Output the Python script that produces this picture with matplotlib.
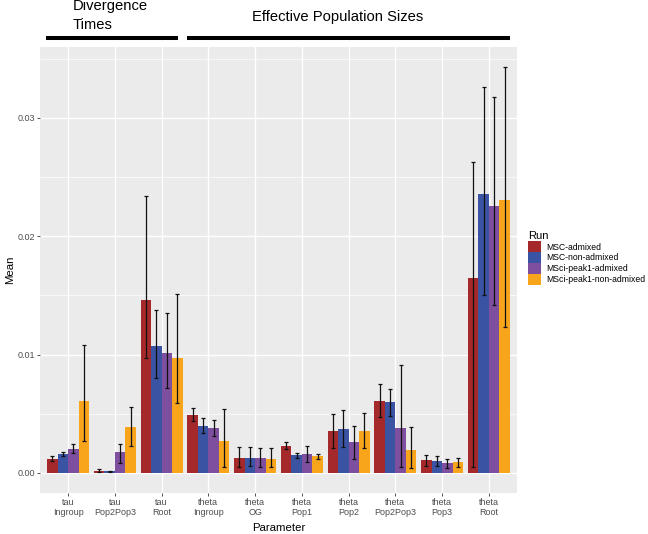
import matplotlib
matplotlib.use("Agg")
import matplotlib.pyplot as plt
from matplotlib.lines import Line2D
from matplotlib.patches import Patch
import numpy as np

plt.rcParams["font.family"] = ["Liberation Sans", "DejaVu Sans"]

categories = ["tau\nIngroup", "tau\nPop2Pop3", "tau\nRoot", "theta\nIngroup", "theta\nOG",
              "theta\nPop1", "theta\nPop2", "theta\nPop2Pop3", "theta\nPop3", "theta\nRoot"]
runs = ["MSC-admixed", "MSC-non-admixed", "MSci-peak1-admixed", "MSci-peak1-non-admixed"]
colors = ["#A5282B", "#3A53A3", "#7E4F9E", "#F9A51C"]

msc_adm = [0.0012, 0.0002, 0.0146, 0.0049, 0.00125, 0.0023, 0.0035, 0.0061, 0.00105, 0.0165]
msc_adm_lo = [0.0010, 0.0001, 0.0097, 0.0044, 0.0005, 0.0020, 0.0021, 0.0047, 0.0006, 0.0005]
msc_adm_hi = [0.0014, 0.0003, 0.0234, 0.0055, 0.0022, 0.0026, 0.0050, 0.0075, 0.0015, 0.0263]

msc_non = [0.0016, 0.00015, 0.0107, 0.0040, 0.0013, 0.0015, 0.0037, 0.0060, 0.0010, 0.0236]
msc_non_lo = [0.0014, 0.0001, 0.0080, 0.0034, 0.0006, 0.0013, 0.0022, 0.0048, 0.0006, 0.0150]
msc_non_hi = [0.0018, 0.0002, 0.0138, 0.0046, 0.0022, 0.0017, 0.0053, 0.0071, 0.0014, 0.0326]

msci_adm = [0.0020, 0.00175, 0.0101, 0.0038, 0.00124, 0.0016, 0.0026, 0.0038, 0.0008, 0.0226]
msci_adm_lo = [0.0017, 0.0008, 0.0072, 0.0031, 0.0005, 0.0009, 0.0012, 0.0005, 0.0004, 0.0142]
msci_adm_hi = [0.0024, 0.0024, 0.0135, 0.0045, 0.0021, 0.0023, 0.0040, 0.0091, 0.0012, 0.0318]

msci_non = [0.0061, 0.0039, 0.0097, 0.0027, 0.0012, 0.0014, 0.0035, 0.0019, 0.0009, 0.0231]
msci_non_lo = [0.0027, 0.0023, 0.0059, 0.0005, 0.0005, 0.0012, 0.0021, 0.0004, 0.0005, 0.0123]
msci_non_hi = [0.0108, 0.0056, 0.0151, 0.0054, 0.0021, 0.0016, 0.0051, 0.0039, 0.0013, 0.0343]

means = [msc_adm, msc_non, msci_adm, msci_non]
lows = [msc_adm_lo, msc_non_lo, msci_adm_lo, msci_non_lo]
highs = [msc_adm_hi, msc_non_hi, msci_adm_hi, msci_non_hi]

W, H = 648, 534
fig = plt.figure(figsize=(W / 100, H / 100), dpi=100)
ax = fig.add_axes([40 / W, 41 / H, 477 / W, 446 / H])
ax.set_facecolor("#EBEBEB")
for s in ax.spines.values():
    s.set_visible(False)

x = np.arange(len(categories))
bw = 0.9 / len(runs)
for i, (m, lo, hi, c) in enumerate(zip(means, lows, highs, colors)):
    xi = x - 0.45 + bw * (i + 0.5)
    m = np.array(m)
    ax.bar(xi, m, width=bw, color=c, zorder=2)
    yerr = np.vstack([m - np.array(lo), np.array(hi) - m])
    ax.errorbar(xi, m, yerr=yerr, fmt="none", ecolor="#111111", elinewidth=0.9,
                capsize=1.4, capthick=0.9, zorder=3)

ax.set_xlim(-0.6, len(categories) - 0.4)
ax.set_ylim(-0.0017, 0.0360)
ax.set_xticks(x, categories)
ax.set_yticks([0, 0.01, 0.02, 0.03], ["0.00", "0.01", "0.02", "0.03"])
ax.set_yticks([0.005, 0.015, 0.025, 0.035], minor=True)
ax.set_axisbelow(True)
ax.grid(which="major", color="white", lw=1.0)
ax.grid(which="minor", axis="y", color="white", lw=0.5)
ax.tick_params(which="major", length=2, width=0.6, color="#333333", labelsize=6.5,
               labelcolor="#4D4D4D", pad=1.5)
ax.tick_params(which="minor", length=0)

ax.set_xlabel("Parameter", fontsize=8.2)
ax.xaxis.label.set_va("center")
ax.xaxis.set_label_coords(0.5, -0.0785)
ax.set_ylabel("Mean", fontsize=8.2)
ax.yaxis.label.set_va("center")
ax.yaxis.set_label_coords(-0.063, 0.5)

handles = [Patch(facecolor=c, edgecolor="none") for c in colors]
leg = fig.legend(handles, runs, loc="upper left", bbox_to_anchor=(528 / W, 1 - 231 / H),
                 frameon=False, fontsize=6.2, title="Run", title_fontsize=8,
                 handlelength=1.5, handleheight=1.5, labelspacing=0.05,
                 handletextpad=0.6, borderpad=0, borderaxespad=0, alignment="left")

fig.text(73 / W, 1 - 10 / H, "Divergence", fontsize=10.6, va="baseline")
fig.text(73 / W, 1 - 29 / H, "Times", fontsize=10.6, va="baseline")
fig.text(338 / W, 1 - 21 / H, "Effective Population Sizes", fontsize=10.6,
         va="baseline", ha="center")
for x0, x1 in [(46, 178), (187, 510)]:
    fig.add_artist(Line2D([x0 / W, x1 / W], [1 - 38 / H] * 2, lw=2.9, color="black",
                          solid_capstyle="butt"))

fig.savefig("out.png", dpi=100)
